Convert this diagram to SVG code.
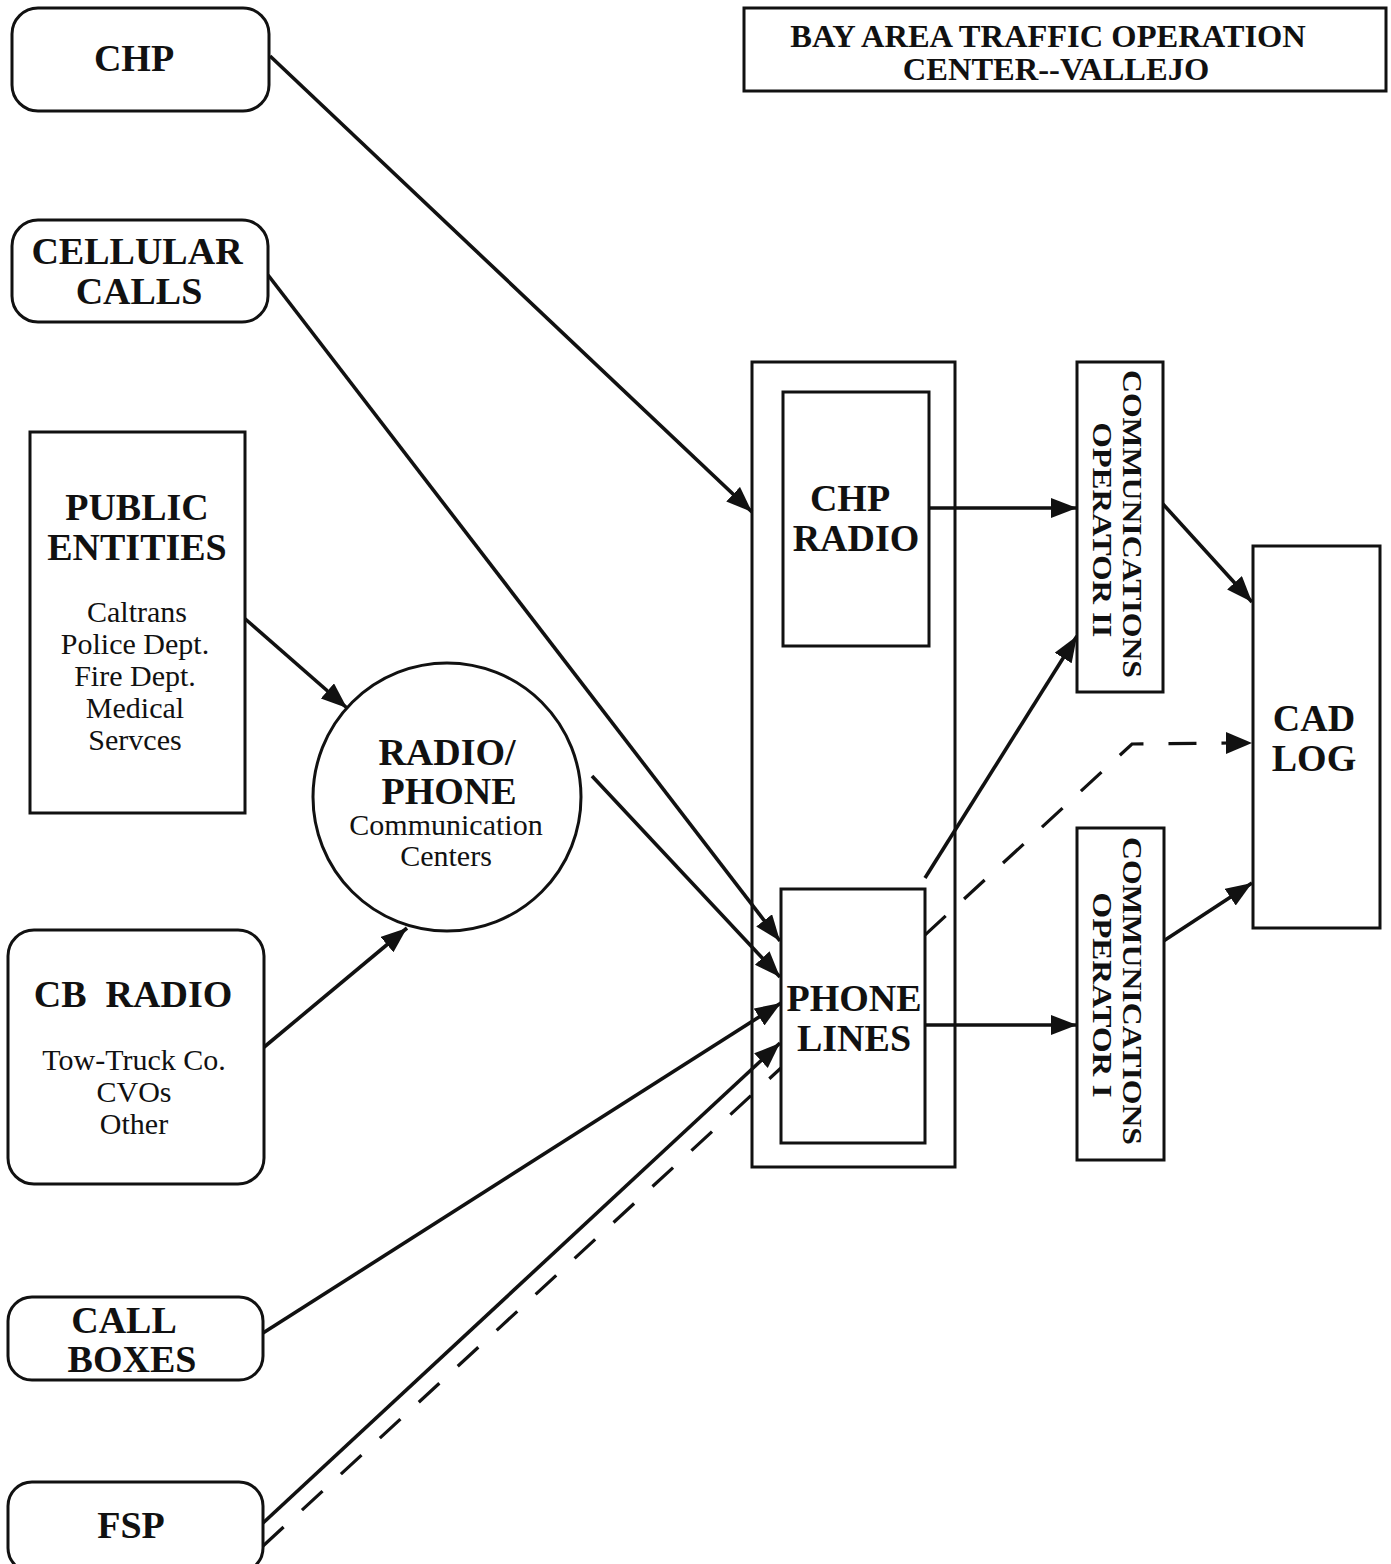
<svg xmlns="http://www.w3.org/2000/svg" width="1391" height="1564" viewBox="0 0 1391 1564">
<style>
.box{fill:#fff;stroke:#111;stroke-width:3}
.open{fill:none;stroke:#111;stroke-width:3}
.ln{fill:none;stroke:#111;stroke-width:3.6}
.dash{fill:none;stroke:#111;stroke-width:3.2;stroke-dasharray:28 25}
.b{font-family:"Liberation Serif","Times New Roman",serif;font-weight:bold;font-size:38px;fill:#111;text-anchor:middle}
.r{font-family:"Liberation Serif","Times New Roman",serif;font-size:30px;fill:#111;text-anchor:middle}
.t{font-family:"Liberation Serif","Times New Roman",serif;font-weight:bold;font-size:32.5px;fill:#111;text-anchor:middle}
.v{font-family:"Liberation Serif","Times New Roman",serif;font-weight:bold;font-size:28px;fill:#111;text-anchor:middle}
</style>
<defs>
<marker id="arr" markerUnits="userSpaceOnUse" markerWidth="28" markerHeight="22" refX="26" refY="10" orient="auto">
<path d="M0,0 L26,10 L0,20 z" fill="#111"/>
</marker>
</defs>
<rect width="1391" height="1564" fill="#fff"/>

<g id="connectors">
<path class="dash" d="M263,1546 L1132,744 L1228,743"/>
<path d="M1226,732 L1252,743 L1226,754 z" fill="#111"/>
<line class="ln" x1="270" y1="56" x2="752" y2="512" marker-end="url(#arr)"/>
<line class="ln" x1="268" y1="275" x2="780" y2="941" marker-end="url(#arr)"/>
<line class="ln" x1="243" y1="617" x2="347" y2="708" marker-end="url(#arr)"/>
<line class="ln" x1="263" y1="1048" x2="407" y2="928" marker-end="url(#arr)"/>
<line class="ln" x1="592" y1="776" x2="780" y2="977" marker-end="url(#arr)"/>
<line class="ln" x1="263" y1="1333" x2="781" y2="1003" marker-end="url(#arr)"/>
<line class="ln" x1="263" y1="1523" x2="780" y2="1043" marker-end="url(#arr)"/>
<line class="ln" x1="929" y1="508" x2="1077" y2="508" marker-end="url(#arr)"/>
<line class="ln" x1="925" y1="1025" x2="1077" y2="1025" marker-end="url(#arr)"/>
<line class="ln" x1="925" y1="878" x2="1077" y2="636" marker-end="url(#arr)"/>
<line class="ln" x1="1162" y1="503" x2="1252" y2="602" marker-end="url(#arr)"/>
<line class="ln" x1="1162" y1="942" x2="1252" y2="883" marker-end="url(#arr)"/>
</g>

<g id="title">
<rect class="box" x="744" y="8" width="642" height="83"/>
<text class="t" x="1048" y="47">BAY AREA TRAFFIC OPERATION</text>
<text class="t" x="1056" y="80">CENTER--VALLEJO</text>
</g>

<g id="chp">
<rect class="box" x="12" y="8" width="257" height="103" rx="26"/>
<text class="b" x="134" y="71">CHP</text>
</g>

<g id="cellular">
<rect class="box" x="12" y="220" width="256" height="102" rx="26"/>
<text class="b" x="137" y="264">CELLULAR</text>
<text class="b" x="139" y="304">CALLS</text>
</g>

<g id="public">
<rect class="box" x="30" y="432" width="215" height="381"/>
<text class="b" x="137" y="520">PUBLIC</text>
<text class="b" x="137" y="560">ENTITIES</text>
<text class="r" x="137" y="622">Caltrans</text>
<text class="r" x="135" y="654">Police Dept.</text>
<text class="r" x="135" y="686">Fire Dept.</text>
<text class="r" x="135" y="718">Medical</text>
<text class="r" x="135" y="750">Servces</text>
</g>

<g id="radiophone">
<circle class="box" cx="447" cy="797" r="134"/>
<text class="b" x="447" y="765">RADIO/</text>
<text class="b" x="449" y="804">PHONE</text>
<text class="r" x="446" y="835">Communication</text>
<text class="r" x="446" y="866">Centers</text>
</g>

<g id="cbradio">
<rect class="box" x="8" y="930" width="256" height="254" rx="26"/>
<text class="b" x="133" y="1007" xml:space="preserve">CB  RADIO</text>
<text class="r" x="134" y="1070">Tow-Truck Co.</text>
<text class="r" x="134" y="1102">CVOs</text>
<text class="r" x="134" y="1134">Other</text>
</g>

<g id="callboxes">
<rect class="box" x="8" y="1297" width="255" height="83" rx="24"/>
<text class="b" x="124" y="1333">CALL</text>
<text class="b" x="132" y="1372">BOXES</text>
</g>

<g id="fsp">
<rect class="box" x="8" y="1482" width="255" height="90" rx="24"/>
<text class="b" x="131" y="1538">FSP</text>
</g>

<g id="center">
<rect class="open" x="752" y="362" width="203" height="805"/>
</g>

<g id="chpradio">
<rect class="box" x="783" y="392" width="146" height="254"/>
<text class="b" x="850" y="511">CHP</text>
<text class="b" x="856" y="551">RADIO</text>
</g>

<g id="phonelines">
<rect class="box" x="781" y="889" width="144" height="254"/>
<text class="b" x="854" y="1011">PHONE</text>
<text class="b" x="854" y="1051">LINES</text>
</g>

<g id="op2">
<rect class="box" x="1077" y="362" width="86" height="330"/>
<text class="v" transform="translate(1123,524) rotate(90)" textLength="308" lengthAdjust="spacingAndGlyphs">COMMUNICATIONS</text>
<text class="v" transform="translate(1093,530) rotate(90)" textLength="215" lengthAdjust="spacingAndGlyphs">OPERATOR II</text>
</g>

<g id="op1">
<rect class="box" x="1077" y="828" width="87" height="332"/>
<text class="v" transform="translate(1123,991) rotate(90)" textLength="308" lengthAdjust="spacingAndGlyphs">COMMUNICATIONS</text>
<text class="v" transform="translate(1093,995) rotate(90)" textLength="205" lengthAdjust="spacingAndGlyphs">OPERATOR I</text>
</g>

<g id="cadlog">
<rect class="box" x="1253" y="546" width="127" height="382"/>
<text class="b" x="1314" y="731">CAD</text>
<text class="b" x="1314" y="771">LOG</text>
</g>
</svg>
